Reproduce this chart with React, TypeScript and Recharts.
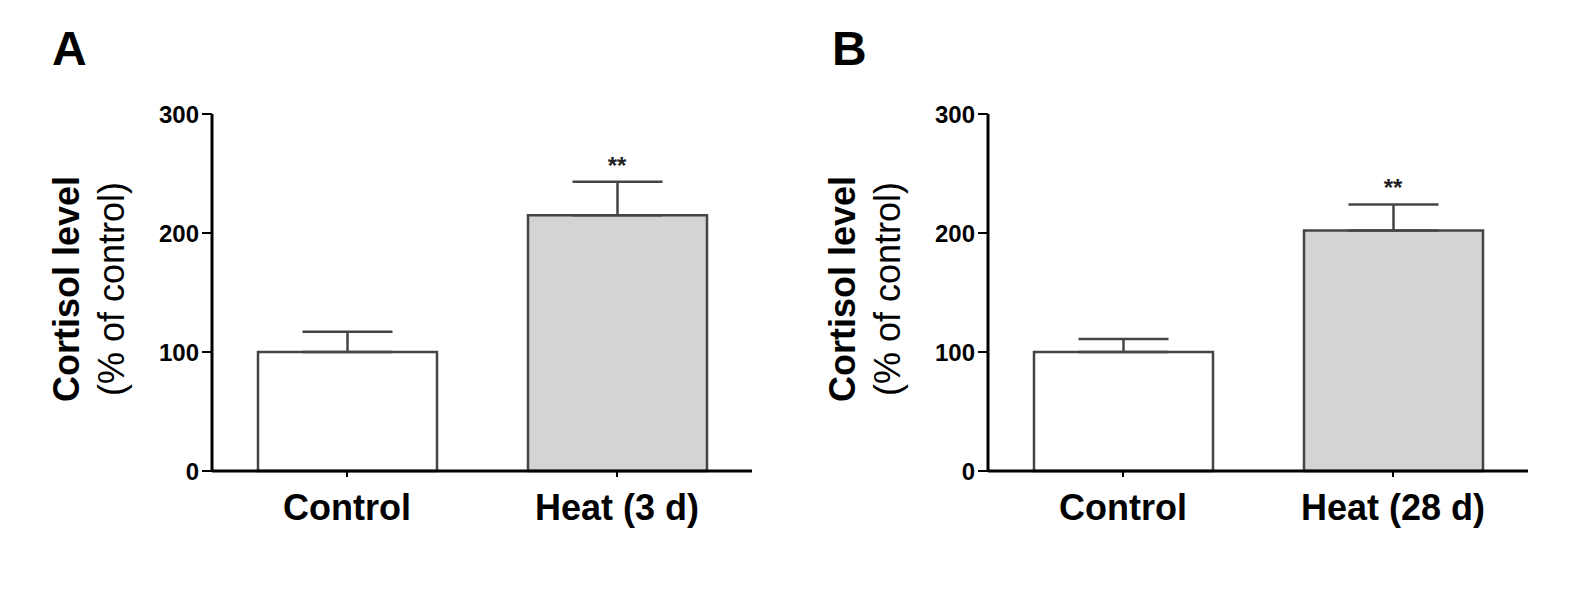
import { BarChart, Bar, XAxis, YAxis, ErrorBar, Cell, ReferenceDot, Label } from 'recharts';

const groupsA = ['Control', 'Heat (3 d)'];
const meansA = [100, 215];
const semA = [17, 28];
const marksA = ['', '**'];

const groupsB = ['Control', 'Heat (28 d)'];
const meansB = [100, 202];
const semB = [11, 22];
const marksB = ['', '**'];

const yTicks = [0, 100, 200, 300];
const barFills = ['#ffffff', '#d4d4d4'];

const font = '"Liberation Sans", Arial, sans-serif';

interface PanelProps {
  letter: string;
  letterX: number;
  groups: string[];
  means: number[];
  sem: number[];
  marks: string[];
}

function Panel({ letter, letterX, groups, means, sem, marks }: PanelProps) {
  const data = groups.map((g, i) => ({ group: g, mean: means[i], err: [0, sem[i]] }));

  const renderTitle = () => (
    <g fontFamily={font} fill="#000">
      <text x={letterX} y={65} fontSize={48} fontWeight="bold">{letter}</text>
      <text transform="translate(79,289) rotate(-90)" textAnchor="middle" fontSize={36} fontWeight="bold">
        Cortisol level
      </text>
      <text transform="translate(124,289) rotate(-90)" textAnchor="middle" fontSize={36}>
        (% of control)
      </text>
    </g>
  );

  return (
    <BarChart
      width={770}
      height={600}
      data={data}
      margin={{ top: 114, right: 18, bottom: 69, left: 0 }}
      barSize={179}
    >
      <XAxis
        dataKey="group"
        height={60}
        interval={0}
        axisLine={{ stroke: '#000', strokeWidth: 3 }}
        tickLine={{ stroke: '#000', strokeWidth: 2 }}
        tickSize={6}
        tickMargin={17}
        tick={{ fill: '#000', fontSize: 36, fontWeight: 'bold', fontFamily: font }}
      />
      <YAxis
        width={212}
        domain={[0, 300]}
        ticks={yTicks}
        axisLine={{ stroke: '#000', strokeWidth: 3 }}
        tickLine={{ stroke: '#000', strokeWidth: 2 }}
        tickSize={10}
        tickMargin={3}
        tick={{ fill: '#000', fontSize: 24, fontWeight: 'bold', fontFamily: font }}
      >
        <Label content={renderTitle} />
      </YAxis>
      <Bar dataKey="mean" isAnimationActive={false} stroke="#454545" strokeWidth={2.5}>
        {data.map((d, i) => (
          <Cell key={d.group} fill={barFills[i]} />
        ))}
        <ErrorBar
          dataKey="err"
          direction="y"
          width={45}
          stroke="#454545"
          strokeWidth={2.5}
          isAnimationActive={false}
        />
      </Bar>
      {data.map((d, i) =>
        marks[i] ? (
          <ReferenceDot
            key={d.group}
            x={d.group}
            y={means[i] + sem[i] + 14}
            r={0}
            stroke="none"
            label={{ value: marks[i], position: 'center', fontSize: 24, fontWeight: 'bold', fill: '#222', fontFamily: font }}
          />
        ) : null
      )}
    </BarChart>
  );
}

export default function App() {
  return (
    <div style={{ position: 'absolute', left: 0, top: 0, width: 1574, height: 600, background: '#fff' }}>
      <div style={{ position: 'absolute', left: 0, top: 0 }}>
        <Panel letter="A" letterX={52} groups={groupsA} means={meansA} sem={semA} marks={marksA} />
      </div>
      <div style={{ position: 'absolute', left: 776, top: 0 }}>
        <Panel letter="B" letterX={56} groups={groupsB} means={meansB} sem={semB} marks={marksB} />
      </div>
    </div>
  );
}
